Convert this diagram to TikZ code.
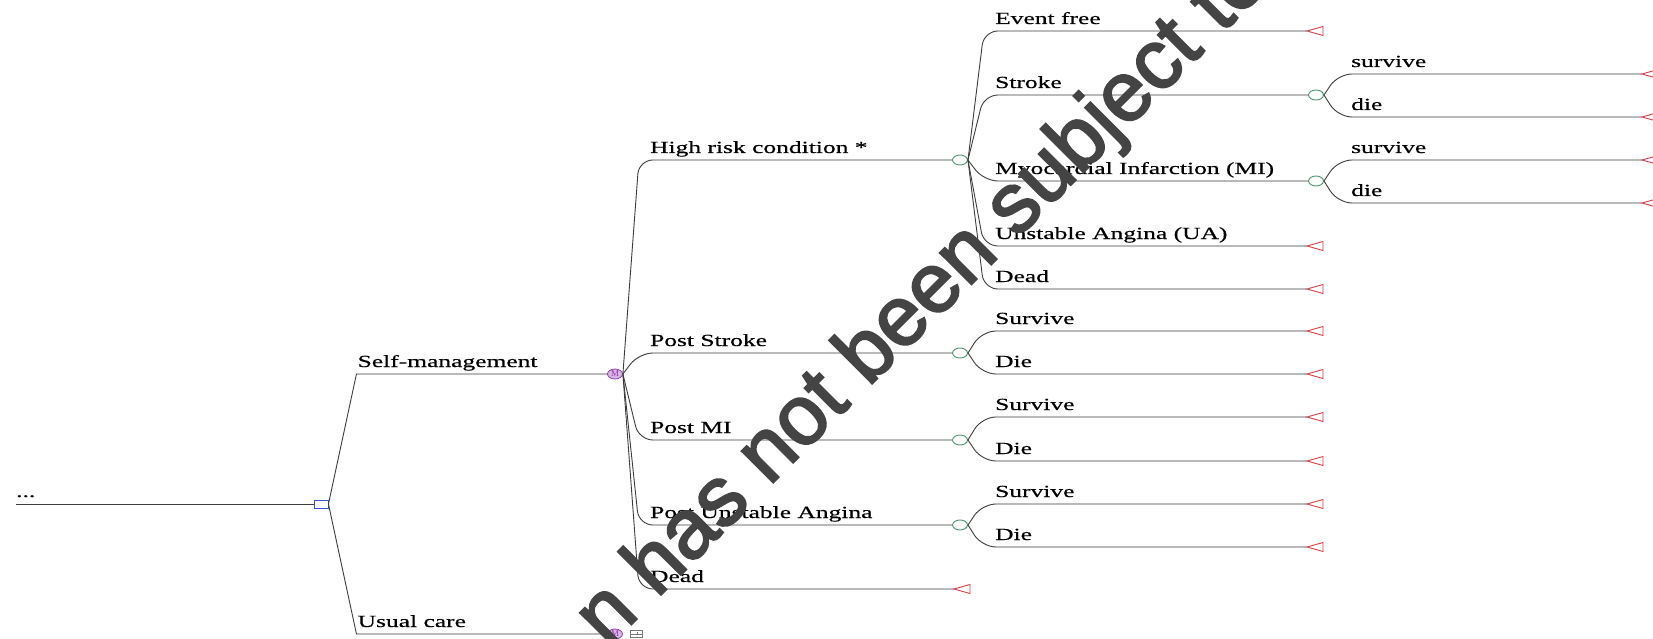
\documentclass[tikz,border=0pt]{standalone}
\usepackage{fontspec}
\setmainfont{Liberation Serif}
\newfontfamily\treefont[FakeStretch=1.5,FakeBold=0.5]{Liberation Serif}
\newfontfamily\stampfont[FakeBold=2.5]{Liberation Sans}
\usetikzlibrary{shapes.geometric}

\definecolor{linegray}{RGB}{60,60,60}
\definecolor{decblue}{RGB}{50,90,200}
\definecolor{chgreen}{RGB}{70,150,110}
\definecolor{mkpurple}{RGB}{150,60,170}
\definecolor{mkfill}{RGB}{215,180,230}
\definecolor{termred}{RGB}{220,60,70}
\definecolor{boxgray}{RGB}{120,120,120}
\definecolor{stampgray}{RGB}{68,68,68}

\tikzset{
  link/.style={draw=linegray, line width=0.9pt},
  branch/.style={link, rounded corners=14pt},
  decision/.style={draw=decblue, fill=white, line width=0.9pt, minimum width=14pt, minimum height=8pt, inner sep=0pt},
  chance/.style={ellipse, draw=chgreen, fill=white, line width=0.9pt, minimum width=15pt, minimum height=10pt, inner sep=0pt},
  markov/.style={ellipse, draw=mkpurple, fill=mkfill, text=mkpurple, line width=0.8pt, minimum width=15pt, minimum height=10pt, inner sep=0pt, font=\fontsize{9}{9}\selectfont},
  plusbox/.style={draw=boxgray, fill=white, line width=0.8pt, minimum width=12pt, minimum height=7pt, inner sep=0pt},
  lbl/.style={anchor=base west, inner sep=0pt, font=\treefont\fontsize{17}{17}\selectfont, yshift=7pt},
  terminal/.pic={\draw[draw=termred, line width=0.9pt] (0,0) -- (16,-4.5) -- (16,4.5) -- cycle;},
}

\begin{document}
\begin{tikzpicture}[x=1pt, y=-1pt]
\useasboundingbox (0,0) rectangle (1653,639);
\clip (0,0) rectangle (1653,639);

% root and decision
\coordinate (root) at (16,504);
\node[lbl] (dots) at (root) {...};
\node[decision] (d) at (321,504) {};
\draw[link] (root) -- (d.west);

% the two strategies
\node[markov] (m1) at (615,374) {M};
\node[markov] (m2) at (615,634) {M};
\node[plusbox] (pb) at (636,634) {};
\draw[boxgray, line width=0.7pt] (pb.west) -- (pb.east) ([xshift=1.5pt]pb.center) -- +(0,-2.5);
\draw[link] (d.east) -- ([xshift=28pt]d.east |- m1) -- (m1.west);
\node[lbl] (lSelf) at ([xshift=29pt]d.east |- m1) {Self-management};
\draw[link] (d.east) -- ([xshift=28pt]d.east |- m2) -- (m2.west);
\node[lbl] (lUsual) at ([xshift=29pt]d.east |- m2) {Usual care};

% markov states
\node[chance] (c1) at (960,160) {};
\node[chance] (c2) at (960,353) {};
\node[chance] (c3) at (960,440) {};
\node[chance] (c4) at (960,525) {};
\coordinate (t5) at (954,589);
\pic at (t5) {terminal};
\draw[branch] (m1.east) -- ([xshift=16pt]m1.east |- c1) -- (c1.west);
\node[lbl] (lHigh) at ([xshift=27pt]m1.east |- c1) {High risk condition *};
\draw[branch] (m1.east) -- ([xshift=16pt]m1.east |- c2) -- (c2.west);
\node[lbl] (lPS) at ([xshift=27pt]m1.east |- c2) {Post Stroke};
\draw[branch] (m1.east) -- ([xshift=16pt]m1.east |- c3) -- (c3.west);
\node[lbl] (lPMI) at ([xshift=27pt]m1.east |- c3) {Post MI};
\draw[branch] (m1.east) -- ([xshift=16pt]m1.east |- c4) -- (c4.west);
\node[lbl] (lPUA) at ([xshift=27pt]m1.east |- c4) {Post Unstable Angina};
\draw[branch] (m1.east) -- ([xshift=16pt]m1.east |- t5) -- (t5);
\node[lbl] (lDead) at ([xshift=27pt]m1.east |- t5) {Dead};

% high risk condition events
\coordinate (t11) at (1307,31);
\node[chance] (c12) at (1316,95) {};
\node[chance] (c13) at (1316,181) {};
\coordinate (t14) at (1307,246);
\coordinate (t15) at (1307,289);
\pic at (t11) {terminal};
\pic at (t14) {terminal};
\pic at (t15) {terminal};
\draw[branch] (c1.east) -- ([xshift=16pt]c1.east |- t11) -- (t11);
\node[lbl] (lEvent) at ([xshift=27pt]c1.east |- t11) {Event free};
\draw[branch] (c1.east) -- ([xshift=16pt]c1.east |- c12) -- (c12.west);
\node[lbl] (lStroke) at ([xshift=27pt]c1.east |- c12) {Stroke};
\draw[branch] (c1.east) -- ([xshift=16pt]c1.east |- c13) -- (c13.west);
\node[lbl] (lMI) at ([xshift=27pt]c1.east |- c13) {Myocardial Infarction (MI)};
\draw[branch] (c1.east) -- ([xshift=16pt]c1.east |- t14) -- (t14);
\node[lbl] (lUA) at ([xshift=27pt]c1.east |- t14) {Unstable Angina (UA)};
\draw[branch] (c1.east) -- ([xshift=16pt]c1.east |- t15) -- (t15);
\node[lbl] (lDead2) at ([xshift=27pt]c1.east |- t15) {Dead};

% stroke and MI outcomes
\coordinate (t121) at (1642,74);
\coordinate (t122) at (1642,117);
\coordinate (t131) at (1642,160);
\coordinate (t132) at (1642,203);
\pic at (t121) {terminal};
\pic at (t122) {terminal};
\pic at (t131) {terminal};
\pic at (t132) {terminal};
\draw[branch] (c12.east) -- ([xshift=14pt]c12.east |- t121) -- (t121);
\node[lbl] (lSv1) at ([xshift=27pt]c12.east |- t121) {survive};
\draw[branch] (c12.east) -- ([xshift=14pt]c12.east |- t122) -- (t122);
\node[lbl] (lDi1) at ([xshift=27pt]c12.east |- t122) {die};
\draw[branch] (c13.east) -- ([xshift=14pt]c13.east |- t131) -- (t131);
\node[lbl] (lSv2) at ([xshift=27pt]c13.east |- t131) {survive};
\draw[branch] (c13.east) -- ([xshift=14pt]c13.east |- t132) -- (t132);
\node[lbl] (lDi2) at ([xshift=27pt]c13.east |- t132) {die};

% post event states
\coordinate (t21) at (1307,331);
\coordinate (t22) at (1307,374);
\coordinate (t31) at (1307,417);
\coordinate (t32) at (1307,461);
\coordinate (t41) at (1307,504);
\coordinate (t42) at (1307,547);
\pic at (t21) {terminal};
\pic at (t22) {terminal};
\pic at (t31) {terminal};
\pic at (t32) {terminal};
\pic at (t41) {terminal};
\pic at (t42) {terminal};
\draw[branch] (c2.east) -- ([xshift=14pt]c2.east |- t21) -- (t21);
\node[lbl] (lSv3) at ([xshift=27pt]c2.east |- t21) {Survive};
\draw[branch] (c2.east) -- ([xshift=14pt]c2.east |- t22) -- (t22);
\node[lbl] (lDi3) at ([xshift=27pt]c2.east |- t22) {Die};
\draw[branch] (c3.east) -- ([xshift=14pt]c3.east |- t31) -- (t31);
\node[lbl] (lSv4) at ([xshift=27pt]c3.east |- t31) {Survive};
\draw[branch] (c3.east) -- ([xshift=14pt]c3.east |- t32) -- (t32);
\node[lbl] (lDi4) at ([xshift=27pt]c3.east |- t32) {Die};
\draw[branch] (c4.east) -- ([xshift=14pt]c4.east |- t41) -- (t41);
\node[lbl] (lSv5) at ([xshift=27pt]c4.east |- t41) {Survive};
\draw[branch] (c4.east) -- ([xshift=14pt]c4.east |- t42) -- (t42);
\node[lbl] (lDi5) at ([xshift=27pt]c4.east |- t42) {Die};

% watermark
\node[rotate=45, text=stampgray, inner sep=0pt, font=\stampfont\fontsize{84}{84}\selectfont] (stamp) at (924,301) {n has not been subject to};
\end{tikzpicture}
\end{document}
